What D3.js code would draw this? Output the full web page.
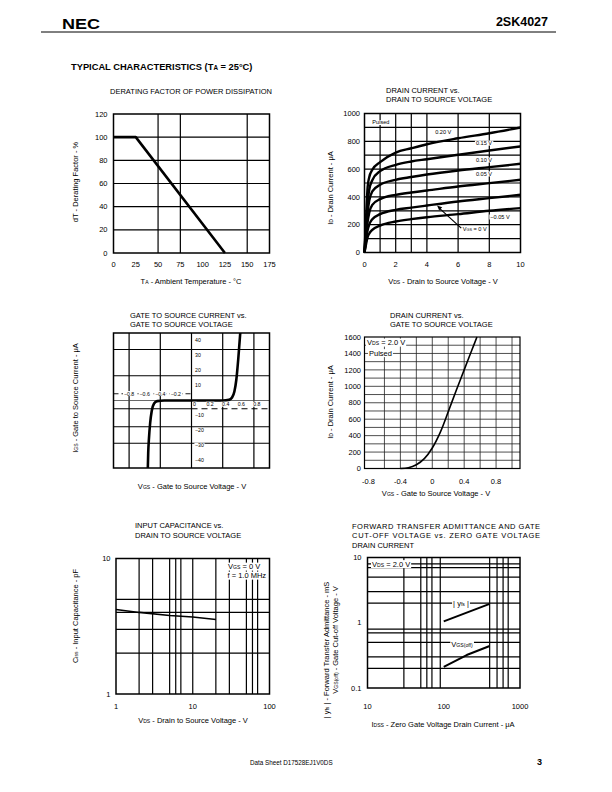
<!DOCTYPE html>
<html><head><meta charset="utf-8">
<script src="https://cdn.jsdelivr.net/npm/d3@7"></script>
<style>
body{margin:0;background:#fff}
svg{display:block}
text{font-family:"Liberation Sans",Arial,Helvetica,sans-serif;fill:#000}
</style>
</head><body>
<svg id="c" width="612" height="792"></svg>
<script>
// ---------------- DATA ----------------
// Panel 1: derating factor
const derTemp = [0, 25, 125];
const derFactor = [100, 100, 0];
const derXTicks = [0, 25, 50, 75, 100, 125, 150, 175];
const derYTicks = [0, 20, 40, 60, 80, 100, 120];
const derGridX = [50, 75, 150];
const derGridY = [20, 40, 60, 80, 100];

// Panel 2: ID vs VDS
const idVds  = [0, 0.1, 0.2, 0.3, 0.5, 1, 2, 3, 4, 6, 8, 10];
const idP020 = [0, 250, 470, 540, 595, 650, 719, 750, 779, 822, 858, 899];
const idP015 = [0, 200, 360, 450, 520, 585, 631, 655, 671, 703, 734, 763];
const idP010 = [0, 160, 290, 370, 440, 487, 523, 543, 561, 590, 614, 638];
const idP005 = [0, 120, 220, 285, 343, 384, 415, 432, 446, 475, 499, 523];
const idP000 = [0, 85, 160, 200, 240, 276, 307, 323, 338, 367, 391, 415];
const idM005 = [0, 60, 110, 135, 163, 194, 223, 240, 254, 276, 300, 319];
const idXTicks = [0, 2, 4, 6, 8, 10];
const idYTicks = [0, 200, 400, 600, 800, 1000];
const idGridX = [1, 2, 3, 4, 6, 8];
const idGridY = [100, 200, 300, 400, 500, 600, 700, 800, 900];

// Panel 3: IGS vs VGS
const igsV = [-0.56, -0.555, -0.545, -0.53, -0.51, -0.48, -0.44, -0.35, 0.40, 0.48, 0.52, 0.55, 0.575, 0.60, 0.625];
const igsI = [-45, -35, -25, -15, -7, -2, -0.4, 0, 0, 0.4, 2, 6, 14, 28, 45];
const igsXNeg = [-0.8, -0.6, -0.4, -0.2];
const igsXPos = [0, 0.2, 0.4, 0.6, 0.8];
const igsYTicks = [40, 30, 20, 10, -10, -20, -30, -40];
const igsGridX = [-0.8, -0.4, 0, 0.4, 0.8];
const igsGridY = [34, 16.5, -17.5, -28.5];

// Panel 4: ID vs VGS
const tfVgs = [-0.4, -0.3, -0.2, -0.1, 0, 0.1, 0.2, 0.3, 0.4, 0.5, 0.56];
const tfId  = [0, 8, 45, 120, 250, 440, 690, 950, 1200, 1450, 1600];
const tfXTicks = [-0.8, -0.4, 0, 0.4, 0.8];
const tfYTicks = [0, 200, 400, 600, 800, 1000, 1200, 1400, 1600];
const tfGridX = [-0.6, -0.4, -0.2, 0, 0.2, 0.4, 0.6, 0.8, 1.0];
const tfGridY = [100, 200, 300, 400, 500, 600, 700, 800, 900, 1000, 1100, 1200, 1300, 1400, 1500];

// Panel 5: Ciss vs VDS
const cissV = [1, 2, 5, 10, 20];
const cissC = [4.2, 4.0, 3.8, 3.7, 3.55];
const cissXTicks = [1, 10, 100];
const cissYTicks = [1, 10];
const cissGridX = [2, 3, 5, 6, 7, 10, 20, 30, 50, 60, 70];
const cissGridY = [2, 3, 4, 5];

// Panel 6: |yfs| and VGS(off) vs IDSS
const yfsIdss = [100, 400];
const yfsVal  = [1.05, 1.95];
const voffIdss = [100, 200, 400];
const voffVal  = [0.21, 0.32, 0.44];
const fXTicks = [10, 100, 1000];
const fYTicks = [0.1, 1, 10];
const fGridX = [30, 50, 60, 70, 90, 400, 500, 600, 700];
const fGridY = [0.2, 0.3, 0.5, 0.7, 0.8, 2, 3, 5, 7, 8];

// ---------------- HELPERS ----------------
const svg = d3.select('#c');
const FS = 7.5;

function txt(g, x, y, parts, o = {}) {
  const size = o.size || FS;
  const t = g.append('text')
    .attr('x', x).attr('y', y + size * 0.35)
    .attr('font-size', size)
    .attr('text-anchor', o.anchor || 'start');
  if (o.bold) t.attr('font-weight', 'bold');
  if (o.rotate) t.attr('transform', `rotate(-90 ${x} ${y})`);
  if (o.len) t.attr('textLength', o.len).attr('lengthAdjust', o.adj || 'spacing');
  if (typeof parts === 'string') parts = [[parts, 0]];
  parts.forEach(([s, sm]) => {
    const ts = t.append('tspan').text(s);
    if (sm) ts.attr('font-size', size * 0.68);
  });
  if (o.bg) {
    const b = t.node().getBBox();
    const p = o.pad == null ? 1 : o.pad;
    g.insert('rect', () => t.node())
      .attr('x', b.x - p).attr('y', b.y + 0.5).attr('width', b.width + 2 * p).attr('height', b.height - 1)
      .attr('fill', '#fff');
  }
  return t;
}

function grid(g, x, y, gx, gy, w, col) {
  const [x0, x1] = x.range(), [y0, y1] = y.range();
  g.selectAll(null).data(gx).join('line')
    .attr('x1', d => x(d)).attr('x2', d => x(d)).attr('y1', y0).attr('y2', y1)
    .attr('stroke', col || '#000').attr('stroke-width', w);
  g.selectAll(null).data(gy).join('line')
    .attr('y1', d => y(d)).attr('y2', d => y(d)).attr('x1', x0).attr('x2', x1)
    .attr('stroke', col || '#000').attr('stroke-width', w);
}
function frame(g, x, y, w) {
  const [x0, x1] = x.range(), [y0, y1] = y.range();
  g.append('rect').attr('x', x0).attr('y', y1).attr('width', x1 - x0).attr('height', y0 - y1)
    .attr('fill', 'none').attr('stroke', '#000').attr('stroke-width', w || 1.5);
}
function curve(g, x, y, xs, ys, w, c) {
  const pts = xs.map((v, i) => [v, ys[i]]);
  g.append('path').datum(pts)
    .attr('d', d3.line().x(d => x(d[0])).y(d => y(d[1])).curve(c || d3.curveMonotoneX))
    .attr('fill', 'none').attr('stroke', '#000').attr('stroke-width', w || 2.4)
    .attr('stroke-linejoin', 'round');
}

// ---------------- HEADER / FOOTER ----------------
const hd = svg.append('g');
txt(hd, 62, 24, 'NEC', { size: 14.5, bold: true, len: 38, adj: 'spacingAndGlyphs' });
txt(hd, 548, 22, '2SK4027', { size: 12.5, bold: true, anchor: 'end' });
hd.append('line').attr('x1', 41).attr('x2', 556).attr('y1', 32).attr('y2', 32).attr('stroke', '#000').attr('stroke-width', 1);
txt(hd, 71, 66.5, [['TYPICAL  CHARACTERISTICS (T', 0], ['A', 1], [' = 25°C)', 0]], { size: 9.3, bold: true });
txt(hd, 250, 763, 'Data Sheet  D17528EJ1V0DS', { size: 6.3 });
txt(hd, 537, 762, '3', { size: 9, bold: true });

// ---------------- PANEL 1 ----------------
{
  const g = svg.append('g');
  const x = d3.scaleLinear().domain([0, 175]).range([113.5, 269.5]);
  const y = d3.scaleLinear().domain([0, 120]).range([253, 114]);
  grid(g, x, y, derGridX, derGridY, 1.2);
  frame(g, x, y);
  curve(g, x, y, derTemp, derFactor, 2.6, d3.curveLinear);
  derYTicks.forEach(v => txt(g, 107.5, y(v), String(v), { anchor: 'end' }));
  derXTicks.forEach(v => txt(g, x(v), 264.5, String(v), { anchor: 'middle' }));
  txt(g, 191, 91, 'DERATING FACTOR OF POWER DISSIPATION', { anchor: 'middle' });
  txt(g, 191, 281, [['T', 0], ['A', 1], [' - Ambient Temperature - °C', 0]], { anchor: 'middle' });
  txt(g, 75, 182, 'dT - Derating Factor - %', { anchor: 'middle', rotate: true });
}

// ---------------- PANEL 2 ----------------
{
  const g = svg.append('g');
  const x = d3.scaleLinear().domain([0, 10]).range([364.5, 520.5]);
  const y = d3.scaleLinear().domain([0, 1000]).range([252.5, 113.5]);
  grid(g, x, y, idGridX, idGridY, 1.2);
  frame(g, x, y);
  [idP020, idP015, idP010, idP005, idP000, idM005].forEach(s => curve(g, x, y, idVds, s, 2.4));
  idYTicks.forEach(v => txt(g, 360, y(v), String(v), { anchor: 'end' }));
  idXTicks.forEach(v => txt(g, x(v), 264, String(v), { anchor: 'middle' }));
  const ls = 5.6;
  txt(g, x(0.5), y(935), 'Pulsed', { size: ls, bg: true });
  txt(g, x(5.05), y(866), '0.20 V', { size: ls, anchor: 'middle', bg: true });
  txt(g, x(7.66), y(787), '0.15 V', { size: ls, anchor: 'middle', bg: true });
  txt(g, x(7.66), y(665), '0.10 V', { size: ls, anchor: 'middle', bg: true });
  txt(g, x(7.66), y(565), '0.05 V', { size: ls, anchor: 'middle', bg: true });
  txt(g, x(8.69), y(255), '−0.05 V', { size: ls, anchor: 'middle', bg: true });
  txt(g, x(6.3), y(168), [['V', 0], ['GS', 1], [' = 0 V', 0]], { size: ls, bg: true });
  // arrow
  const ax0 = x(6.2), ay0 = y(175), ax1 = x(4.65), ay1 = y(338);
  g.append('line').attr('x1', ax0).attr('y1', ay0).attr('x2', ax1 + 2.5).attr('y2', ay1 + 2.8)
    .attr('stroke', '#000').attr('stroke-width', 1.2);
  const ang = Math.atan2(ay1 - ay0, ax1 - ax0);
  const hl = 5, hw = 2.2;
  const bx = ax1 - hl * Math.cos(ang), by = ay1 - hl * Math.sin(ang);
  g.append('path').attr('d', `M${ax1},${ay1}L${bx + hw * Math.sin(ang)},${by - hw * Math.cos(ang)}L${bx - hw * Math.sin(ang)},${by + hw * Math.cos(ang)}Z`).attr('fill', '#000');
  txt(g, 386, 90, 'DRAIN CURRENT vs.');
  txt(g, 386, 99.5, 'DRAIN TO SOURCE VOLTAGE');
  txt(g, 443, 281, [['V', 0], ['DS', 1], [' - Drain to Source Voltage - V', 0]], { anchor: 'middle' });
  txt(g, 330, 188, [['I', 0], ['D', 1], [' - Drain Current - ', 0], ['μ', 0], ['A', 0]], { anchor: 'middle', rotate: true });
}

// ---------------- PANEL 3 ----------------
{
  const g = svg.append('g');
  const x = d3.scaleLinear().domain([-1, 1]).range([113.5, 269.5]);
  const y = d3.scaleLinear().domain([-45, 45]).range([468, 333]);
  grid(g, x, y, igsGridX, igsGridY, 1.2);
  // axis line
  g.append('line').attr('x1', x(-1)).attr('x2', x(1)).attr('y1', y(0)).attr('y2', y(0)).attr('stroke', '#444').attr('stroke-width', 0.8);
  // tick rows
  g.append('line').attr('x1', x(-1)).attr('x2', x(0)).attr('y1', y(-5.5)).attr('y2', y(-5.5)).attr('stroke', '#000').attr('stroke-width', 1.2);
  g.append('line').attr('x1', x(0)).attr('x2', x(1)).attr('y1', y(-5.5)).attr('y2', y(-5.5)).attr('stroke', '#000').attr('stroke-width', 1.2).attr('stroke-dasharray', '6,4');
  g.append('line').attr('x1', x(-1)).attr('x2', x(0)).attr('y1', y(4.5)).attr('y2', y(4.5)).attr('stroke', '#000').attr('stroke-width', 0.9).attr('stroke-dasharray', '5,3');
  frame(g, x, y);
  curve(g, x, y, igsV, igsI, 2.6);
  const ls = 5.2;
  igsXNeg.forEach(v => txt(g, x(v), y(4.5), String(v).replace('-', '−'), { size: ls, anchor: 'middle', bg: true }));
  igsXPos.forEach(v => txt(g, x(v) + 3, y(-2.6), String(v), { size: ls, anchor: 'middle', bg: true, pad: 0.6 }));
  igsYTicks.forEach(v => txt(g, x(0) + 3.5, y(v), String(v).replace('-', '−'), { size: ls, bg: true, pad: 0.6 }));
  txt(g, 130, 315.5, 'GATE TO SOURCE CURRENT vs.');
  txt(g, 130, 324.5, 'GATE TO SOURCE VOLTAGE');
  txt(g, 192, 486, [['V', 0], ['GS', 1], [' - Gate to Source Voltage - V', 0]], { anchor: 'middle' });
  txt(g, 75, 398, [['I', 0], ['GS', 1], [' - Gate to Source Current - ', 0], ['μ', 0], ['A', 0]], { anchor: 'middle', rotate: true });
}

// ---------------- PANEL 4 ----------------
{
  const g = svg.append('g');
  const x = d3.scaleLinear().domain([-0.85, 1.1]).range([364.5, 520]);
  const y = d3.scaleLinear().domain([0, 1600]).range([468.5, 337]);
  grid(g, x, y, tfGridX, tfGridY, 0.8, '#222');
  frame(g, x, y, 1.2);
  curve(g, x, y, tfVgs, tfId, 1.6, d3.curveCatmullRom);
  tfYTicks.forEach(v => txt(g, 361, y(v), String(v), { anchor: 'end' }));
  tfXTicks.forEach(v => txt(g, x(v), 481, String(v), { anchor: 'middle' }));
  txt(g, 367, 342.5, [['V', 0], ['DS', 1], [' = 2.0 V', 0]], { bg: true });
  txt(g, 369, 353, 'Pulsed', { bg: true });
  txt(g, 390, 315.5, 'DRAIN CURRENT vs.');
  txt(g, 390, 324.5, 'GATE TO SOURCE VOLTAGE');
  txt(g, 436, 493, [['V', 0], ['GS', 1], [' - Gate to Source Voltage - V', 0]], { anchor: 'middle' });
  txt(g, 330, 402, [['I', 0], ['D', 1], [' - Drain Current - ', 0], ['μ', 0], ['A', 0]], { anchor: 'middle', rotate: true });
}

// ---------------- PANEL 5 ----------------
{
  const g = svg.append('g');
  const x = d3.scaleLog().domain([1, 100]).range([116, 269.5]);
  const y = d3.scaleLog().domain([1, 10]).range([694, 558.5]);
  grid(g, x, y, cissGridX, cissGridY, 1.2);
  frame(g, x, y);
  curve(g, x, y, cissV, cissC, 1.6, d3.curveLinear);
  cissYTicks.forEach(v => txt(g, 110.5, y(v), String(v), { anchor: 'end' }));
  cissXTicks.forEach(v => txt(g, x(v), 706.5, String(v), { anchor: 'middle' }));
  txt(g, 228, 566.5, [['V', 0], ['GS', 1], [' = 0 V', 0]], { bg: true });
  txt(g, 227.5, 575.5, 'f = 1.0 MHz', { bg: true });
  txt(g, 135, 525.5, 'INPUT CAPACITANCE vs.');
  txt(g, 135, 535, 'DRAIN TO SOURCE VOLTAGE');
  txt(g, 193, 720, [['V', 0], ['DS', 1], [' - Drain to Source Voltage - V', 0]], { anchor: 'middle' });
  txt(g, 75, 616, [['C', 0], ['iss', 1], [' - Input Capacitance - pF', 0]], { anchor: 'middle', rotate: true });
}

// ---------------- PANEL 6 ----------------
{
  const g = svg.append('g');
  const x = d3.scaleLog().domain([10, 1000]).range([367.5, 520]);
  const y = d3.scaleLog().domain([0.1, 10]).range([688, 557.5]);
  grid(g, x, y, fGridX, fGridY, 1.2);
  frame(g, x, y);
  curve(g, x, y, yfsIdss, yfsVal, 2, d3.curveLinear);
  curve(g, x, y, voffIdss, voffVal, 2, d3.curveLinear);
  fYTicks.forEach(v => txt(g, 361.5, y(v), String(v), { anchor: 'end' }));
  fXTicks.forEach(v => txt(g, x(v), 706.5, String(v), { anchor: 'middle' }));
  txt(g, 372, 564, [['V', 0], ['DS', 1], [' = 2.0 V', 0]], { bg: true });
  txt(g, 461, 603, [['| y', 0], ['fs', 1], [' |', 0]], { anchor: 'middle', bg: true });
  txt(g, 462, 644, [['V', 0], ['GS(off)', 1]], { anchor: 'middle', bg: true });
  txt(g, 352, 526.5, 'FORWARD TRANSFER ADMITTANCE AND GATE', { len: 188 });
  txt(g, 352, 535.5, 'CUT-OFF VOLTAGE vs. ZERO GATE VOLTAGE', { len: 188 });
  txt(g, 352, 545, 'DRAIN CURRENT');
  txt(g, 443, 724, [['I', 0], ['DSS', 1], [' - Zero Gate Voltage Drain Current - ', 0], ['μ', 0], ['A', 0]], { anchor: 'middle' });
  txt(g, 326.5, 650, [['| y', 0], ['fs', 1], [' | - Forward Transfer Admittance - mS', 0]], { anchor: 'middle', rotate: true });
  txt(g, 335.5, 640, [['V', 0], ['GS(off)', 1], [' - Gate Cut-off Voltage - V', 0]], { anchor: 'middle', rotate: true });
}
</script>
</body></html>
